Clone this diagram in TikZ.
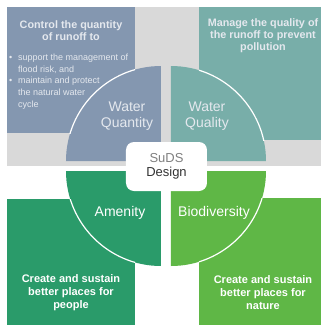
\documentclass[tikz,border=0pt]{standalone}
\usepackage{fontspec}
\setmainfont{Liberation Sans}
\definecolor{bggray}{HTML}{D9D9D9}
\definecolor{qblue}{HTML}{8497B0}
\definecolor{qteal}{HTML}{78AEA9}
\definecolor{qgreen}{HTML}{2A9B6A}
\definecolor{qlime}{HTML}{5FB746}
\definecolor{softtxt}{HTML}{E4E8EE}
\definecolor{sudsgray}{HTML}{808080}
\definecolor{darktxt}{HTML}{333333}
\tikzset{
  panel/.style={inner sep=0pt, outer sep=0pt, anchor=north west},
  quadlabel/.style={align=center, inner sep=0pt, font=\fontsize{14}{16}\selectfont},
  titletxt/.style={align=center, inner sep=0pt, text=softtxt, font=\bfseries\fontsize{10.8}{12}\selectfont},
  bottomtxt/.style={align=center, inner sep=0pt, text=white, font=\bfseries\fontsize{11}{13}\selectfont},
  arcline/.style={white, line width=1.2pt}
}
\begin{document}
\begin{tikzpicture}[x=1pt,y=-1pt]
\useasboundingbox (0,0) rectangle (321,325);
\fill[bggray] (7,7) rectangle (321,166);
% outer panels
\node[panel, fill=qblue, minimum width=128pt, minimum height=126pt] (qtybox) at (7,7) {};
\node[panel, fill=qteal, minimum width=122pt, minimum height=133pt] (qualbox) at (199,7) {};
\node[panel, fill=qgreen, minimum width=128pt, minimum height=126pt] (amenbox) at (7,199) {};
\node[panel, fill=qlime, minimum width=122pt, minimum height=127pt] (biobox) at (199,198) {};
% quadrants
\fill[qblue] (161,161) -- (66,161) arc[start angle=180, end angle=270, radius=95] -- cycle;
\fill[qteal] (171,161) -- (171,66) arc[start angle=270, end angle=360, radius=95] -- cycle;
\fill[qgreen] (161,171) -- (66,171) arc[start angle=180, end angle=90, radius=95] -- cycle;
\fill[qlime] (171,171) -- (266,171) arc[start angle=0, end angle=90, radius=95] -- cycle;
% white edges where the quadrants cross the panels
\begin{scope}
  \clip (qtybox.north west) rectangle (qtybox.south east);
  \draw[arcline] (66,161) arc[start angle=180, end angle=270, radius=95];
\end{scope}
\begin{scope}
  \clip (qualbox.north west) rectangle (qualbox.south east);
  \draw[arcline] (171,66) arc[start angle=270, end angle=360, radius=95];
\end{scope}
\begin{scope}
  \clip (amenbox.north west) rectangle (amenbox.south east);
  \draw[arcline] (66,171) arc[start angle=180, end angle=90, radius=95];
\end{scope}
\begin{scope}
  \clip (biobox.north west) rectangle (biobox.south east);
  \draw[arcline] (266,171) arc[start angle=0, end angle=90, radius=95];
\end{scope}
% centre
\node[fill=white, rounded corners=8pt, minimum width=81pt, minimum height=49pt, inner sep=0pt,
      align=center, font=\fontsize{13}{14}\selectfont] (suds) at (166.5,166.5)
      {\textcolor{sudsgray}{SuDS}\\\textcolor{darktxt}{Design}};
% quadrant labels
\node[quadlabel, text=softtxt] (wqn) at (127,116) {Water\\Quantity};
\node[quadlabel, text=softtxt] (wql) at (207,116) {Water\\Quality};
\node[quadlabel, text=white] (amen) at (120,213) {Amenity};
\node[quadlabel, text=white] (bio) at (214,213) {Biodiversity};
% panel texts
\node[titletxt] (qtytitle) at (71,31) {Control the quantity\\of runoff to};
\node[inner sep=0pt, anchor=north west, align=left, text=softtxt,
      font=\fontsize{9}{11.6}\selectfont] (qtylist) at (9,54)
  {\makebox[9pt][l]{\small•}support the management of\\
   \hspace*{9pt}flood risk, and\\
   \makebox[9pt][l]{\small•}maintain and protect\\
   \hspace*{9pt}the natural water\\
   \hspace*{9pt}cycle};
\node[titletxt] (qualtitle) at (263,35.5) {Manage the quality of\\the runoff to prevent\\pollution};
\node[bottomtxt] (amentxt) at (71,293) {Create and sustain\\better places for\\people};
\node[bottomtxt] (biotxt) at (263,293) {Create and sustain\\better places for\\nature};
\end{tikzpicture}
\end{document}
